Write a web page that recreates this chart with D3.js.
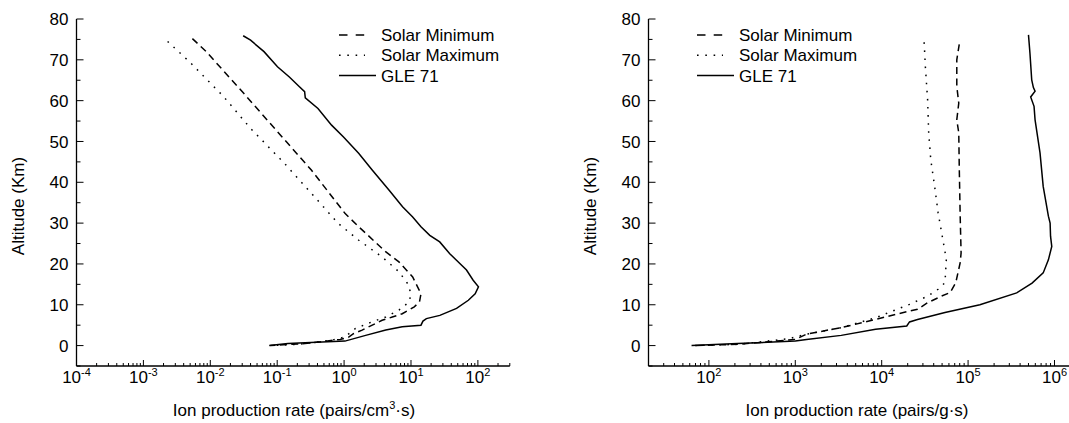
<!DOCTYPE html>
<html>
<head>
<meta charset="utf-8">
<script src="https://cdn.jsdelivr.net/npm/d3@7"></script>
<style>
  body { margin: 0; background: #fff; }
  svg { display: block; font-family: Arial, "Liberation Sans", sans-serif; }
</style>
</head>
<body>
<svg id="chart"></svg>
<script>
// altitude (km) and ion production rate
// left panel: pairs/cm^3·s
const volGleAlt = [75.9, 74.8, 72, 68.3, 65.8, 63.4, 62.2, 60.7, 58.1, 54, 51.1, 47.1, 43, 38.1, 34, 31.5, 29.1, 27, 25.4, 22.5, 20.9, 18.5, 16, 14.4, 12.7, 11.1, 9.1, 7.4, 6.6, 6.0, 5.0, 4.6, 3.8, 2.5, 1.1, 0.7, 0.5, 0];
const volGleVal = [0.031, 0.040, 0.0635, 0.101, 0.152, 0.215, 0.257, 0.263, 0.407, 0.65, 0.98, 1.65, 2.63, 4.68, 7.48, 10.6, 14.1, 19.1, 26.9, 38, 47.9, 67.6, 85, 102, 91, 72, 48, 27, 17, 15.1, 14.1, 7.4, 4.2, 2.1, 1.03, 0.26, 0.145, 0.076];

const volMinAlt = [75.2, 72, 61.8, 52.4, 43, 32.4, 29.1, 23, 20.5, 16.8, 12.7, 10.7, 9.5, 7.8, 7.0, 6.2, 3.8, 2.9, 2.0, 1.5, 0.5, 0];
const volMinVal = [0.0054, 0.0087, 0.0316, 0.101, 0.324, 1.03, 1.66, 4.17, 6.6, 10.6, 14.1, 13.4, 11.2, 7.4, 5.25, 3.7, 1.86, 1.38, 1.16, 0.87, 0.26, 0.079];

const volMaxAlt = [74.5, 69.5, 61, 53.2, 44.6, 36.4, 29.9, 25.8, 21.7, 18.1, 15.2, 12.7, 10.7, 8.7, 7.0, 5.8, 4.2, 2.1, 1.3, 0.3, 0];
const volMaxVal = [0.0023, 0.0049, 0.0158, 0.040, 0.129, 0.363, 0.82, 1.66, 3.7, 6.6, 8.9, 10, 9.4, 6.6, 4.2, 2.6, 1.48, 1.03, 0.65, 0.2, 0.079];

// right panel: pairs/g·s
const massGleAlt = [76.1, 71.6, 65.1, 63.2, 62.3, 60.9, 58.6, 55.3, 47.2, 39, 31.7, 30, 26.8, 24.3, 21, 17.8, 15.3, 12.9, 10, 8.1, 6.4, 5.8, 4.8, 4.0, 2.5, 1.5, 1.1, 0.5, 0];
const massGleVal = [5.0e5, 5.2e5, 5.45e5, 5.7e5, 5.96e5, 5.3e5, 5.8e5, 5.96e5, 6.8e5, 7.4e5, 8.5e5, 8.9e5, 9.0e5, 9.3e5, 8.5e5, 7.4e5, 5.5e5, 3.65e5, 1.37e5, 5.4e4, 2.6e4, 2.1e4, 1.95e4, 8.5e3, 3.4e3, 1.35e3, 1.0e3, 214, 63];

const massMinAlt = [73.8, 70, 63.5, 59.4, 55.3, 52.1, 43.9, 31.7, 22.7, 20.3, 15.4, 13, 12.1, 10.5, 8.9, 7.7, 6.4, 4.4, 2.8, 1.5, 0.3, 0];
const massMinVal = [7.9e4, 7.4e4, 7.4e4, 7.8e4, 7.4e4, 7.8e4, 7.9e4, 8.1e4, 8.3e4, 8.1e4, 7.2e4, 6.2e4, 4.9e4, 3.4e4, 2.6e4, 1.48e4, 8.5e3, 3.4e3, 1.35e3, 1.0e3, 214, 65];

const massMaxAlt = [74.3, 68.4, 60.2, 52.1, 45.5, 39, 32.5, 26, 21.1, 15.4, 13.8, 12.1, 10.1, 8.5, 6.8, 4.4, 2.8, 1.7, 0.3, 0];
const massMaxVal = [3.1e4, 3.2e4, 3.4e4, 3.5e4, 3.7e4, 4.1e4, 4.5e4, 5.1e4, 5.6e4, 5.4e4, 4.5e4, 3.4e4, 2.1e4, 1.35e4, 8.5e3, 3.4e3, 1.35e3, 850, 214, 65];

const seriesNames = ["Solar Minimum", "Solar Maximum", "GLE 71"];
const altTicks = [0, 10, 20, 30, 40, 50, 60, 70, 80];
const volExps = [-4, -3, -2, -1, 0, 1, 2];
const massExps = [2, 3, 4, 5, 6];

const width = 1069, height = 423;
const plotTop = 19, plotBottom = 366;
const dashes = { "Solar Minimum": "7,4.5", "Solar Maximum": "1.6,6.5", "GLE 71": null };

const svg = d3.select("#chart")
    .attr("width", width)
    .attr("height", height)
    .attr("viewBox", [0, 0, width, height]);

function panel(opts) {
    const x = d3.scaleLog().domain(opts.xDomain).range(opts.xRange);
    const y = d3.scaleLinear().domain([-5, 80]).range([plotBottom, plotTop]);
    const g = svg.append("g");

    // minor log ticks (2..9 of each decade)
    const minor = [];
    const lo = Math.floor(Math.log10(opts.xDomain[0])), hi = Math.ceil(Math.log10(opts.xDomain[1]));
    for (let e = lo; e < hi; e++) {
        for (let m = 2; m <= 9; m++) {
            const v = m * Math.pow(10, e);
            if (v >= opts.xDomain[0] && v <= opts.xDomain[1]) minor.push(v);
        }
    }

    const xAxis = g.append("g").attr("transform", `translate(0,${plotBottom})`);
    xAxis.append("line")
        .attr("x1", opts.xRange[0]).attr("x2", opts.xRange[1])
        .attr("stroke", "black").attr("stroke-width", 1.3);
    xAxis.selectAll("line.minor").data(minor).join("line")
        .attr("class", "minor")
        .attr("x1", d => x(d)).attr("x2", d => x(d))
        .attr("y1", 0).attr("y2", -3)
        .attr("stroke", "black").attr("stroke-width", 1);
    xAxis.selectAll("line.major").data(opts.exps).join("line")
        .attr("class", "major")
        .attr("x1", d => x(Math.pow(10, d))).attr("x2", d => x(Math.pow(10, d)))
        .attr("y1", 0).attr("y2", -6)
        .attr("stroke", "black").attr("stroke-width", 1);
    const lab = xAxis.selectAll("text").data(opts.exps).join("text")
        .attr("x", d => x(Math.pow(10, d)))
        .attr("y", 17)
        .attr("text-anchor", "middle")
        .style("font-size", "17px");
    lab.append("tspan").text("10");
    lab.append("tspan")
        .attr("dy", -7)
        .style("font-size", "11px")
        .text(d => d < 0 ? "-" + (-d) : d);

    const yAxis = g.append("g").attr("transform", `translate(${opts.xRange[0]},0)`);
    yAxis.append("line")
        .attr("y1", plotTop).attr("y2", plotBottom)
        .attr("stroke", "black").attr("stroke-width", 1.3);
    yAxis.selectAll("line.minor").data(d3.range(-5, 80, 10)).join("line")
        .attr("class", "minor")
        .attr("y1", d => y(d)).attr("y2", d => y(d))
        .attr("x1", 0).attr("x2", 4)
        .attr("stroke", "black").attr("stroke-width", 1);
    yAxis.selectAll("line.major").data(altTicks).join("line")
        .attr("class", "major")
        .attr("y1", d => y(d)).attr("y2", d => y(d))
        .attr("x1", 0).attr("x2", 7)
        .attr("stroke", "black").attr("stroke-width", 1);
    yAxis.selectAll("text").data(altTicks).join("text")
        .attr("x", -8)
        .attr("y", d => y(d))
        .attr("dy", "0.36em")
        .attr("text-anchor", "end")
        .style("font-size", "17px")
        .text(d => d);

    // axis titles
    const xt = g.append("text")
        .attr("x", opts.titleX)
        .attr("y", 416)
        .attr("text-anchor", "middle")
        .style("font-size", "17px");
    xt.append("tspan").text(opts.unit[0]);
    if (opts.unit[1]) {
        xt.append("tspan").attr("dy", -7).style("font-size", "11px").text(opts.unit[1]);
        xt.append("tspan").attr("dy", 7).text(opts.unit[2]);
    }
    g.append("text")
        .attr("transform", `translate(${opts.yTitleX},206) rotate(-90)`)
        .attr("text-anchor", "middle")
        .style("font-size", "17px")
        .text("Altitude (Km)");

    // curves
    const line = d3.line().x(d => x(d[1])).y(d => y(d[0]));
    opts.series.forEach((s, i) => {
        g.append("path")
            .datum(d3.zip(s[0], s[1]))
            .attr("fill", "none")
            .attr("stroke", "black")
            .attr("stroke-width", 1.5)
            .attr("stroke-dasharray", dashes[seriesNames[i]])
            .attr("d", line);
    });

    // legend
    const lg = g.append("g").attr("transform", `translate(${opts.legendX},0)`);
    const legendDash = { "Solar Minimum": "8.5,8.2", "Solar Maximum": "1.6,6.7", "GLE 71": null };
    const legendLen = { "Solar Minimum": 26, "Solar Maximum": 26, "GLE 71": 37 };
    seriesNames.forEach((name, i) => {
        const ly = 35 + i * 20.3;
        lg.append("line")
            .attr("x1", 0).attr("x2", legendLen[name])
            .attr("y1", ly).attr("y2", ly)
            .attr("stroke", "black").attr("stroke-width", 1.5)
            .attr("stroke-dasharray", legendDash[name]);
        lg.append("text")
            .attr("x", 42)
            .attr("y", ly)
            .attr("dy", "0.36em")
            .style("font-size", "17px")
            .text(name);
    });
}

panel({
    xDomain: [1e-4, 300],
    xRange: [76.5, 509.8],
    exps: volExps,
    unit: ["Ion production rate (pairs/cm", "3", "\u00b7s)"],
    titleX: 294,
    yTitleX: 24,
    legendX: 339,
    series: [[volMinAlt, volMinVal], [volMaxAlt, volMaxVal], [volGleAlt, volGleVal]]
});

panel({
    xDomain: [20, 2e6],
    xRange: [648.5, 1080.5],
    exps: massExps,
    unit: ["Ion production rate (pairs/g\u00b7s)"],
    titleX: 857,
    yTitleX: 596,
    legendX: 697,
    series: [[massMinAlt, massMinVal], [massMaxAlt, massMaxVal], [massGleAlt, massGleVal]]
});
</script>
</body>
</html>
